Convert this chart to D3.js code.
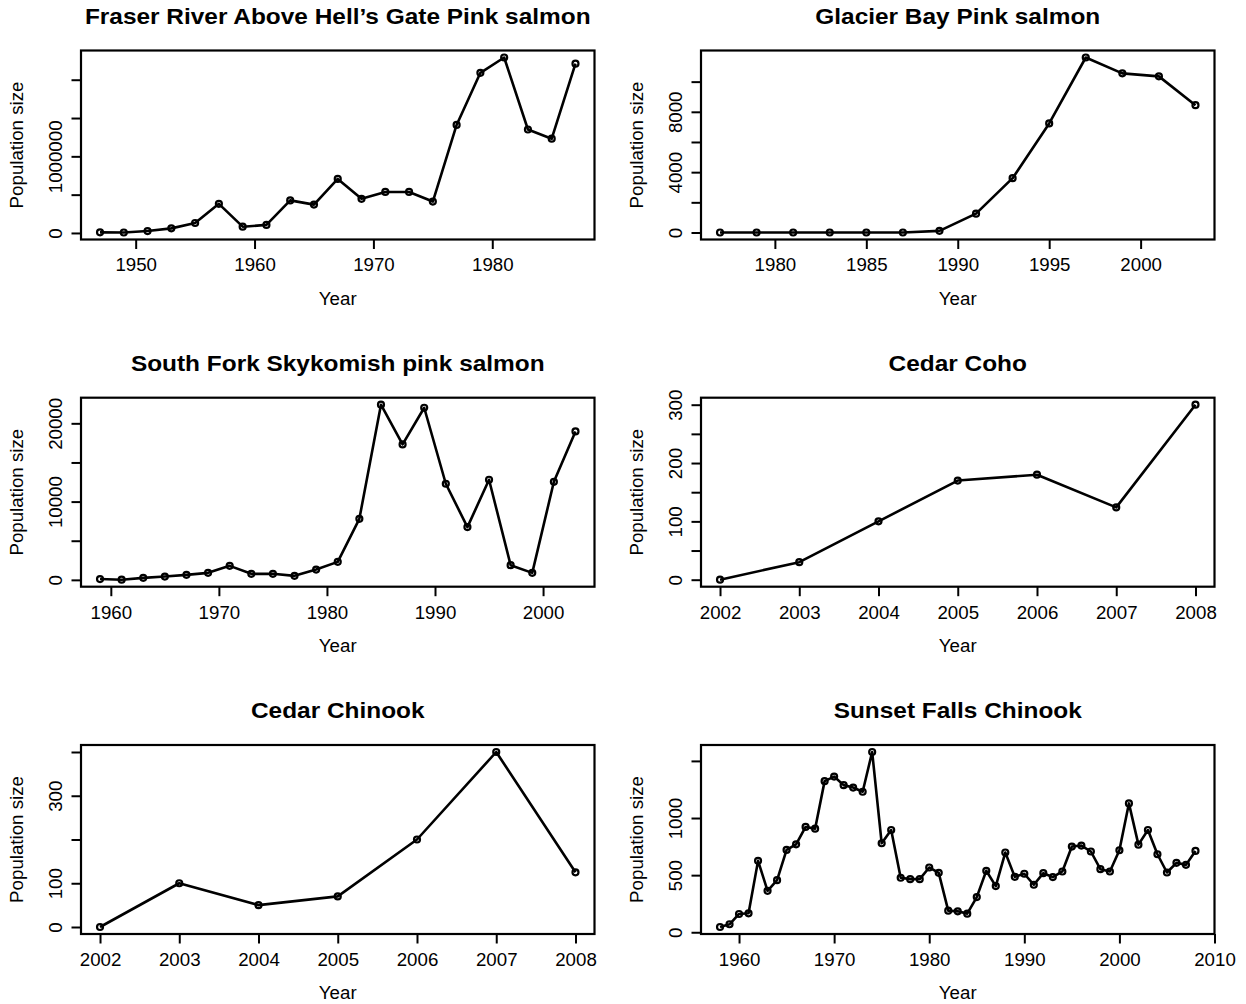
<!DOCTYPE html>
<html>
<head>
<meta charset="utf-8">
<script src="https://cdn.jsdelivr.net/npm/d3@7"></script>
<style>
  html, body { margin: 0; padding: 0; background: #fff; }
  svg { display: block; }
  text { font-family: "Liberation Sans", Arial, Helvetica, sans-serif; fill: #000; }
</style>
</head>
<body>
<svg id="chart" width="1246" height="1004"></svg>
<script>
// ---- Spawner counts per population ----
const fraserYears  = [1947,1949,1951,1953,1955,1957,1959,1961,1963,1965,1967,1969,1971,1973,1975,1977,1979,1981,1983,1985,1987];
const fraserCounts = [8000,6000,25000,60000,130000,380000,82000,105000,425000,370000,705000,445000,535000,535000,410000,1410000,2090000,2290000,1350000,1230000,2210000];

const glacierYears  = [1977,1979,1981,1983,1985,1987,1989,1991,1993,1995,1997,1999,2001,2003];
const glacierCounts = [0,0,0,0,0,0,110,1250,3600,7230,11600,10550,10350,8440];

const skykomishYears  = [1959,1961,1963,1965,1967,1969,1971,1973,1975,1977,1979,1981,1983,1985,1987,1989,1991,1993,1995,1997,1999,2001,2003];
const skykomishCounts = [100,20,255,425,640,895,1790,770,770,510,1320,2300,7800,22380,17300,21990,12280,6740,12790,1875,895,12530,18970];

const cohoYears  = [2002,2003,2004,2005,2006,2007,2008];
const cohoCounts = [0,30,100,170,180,124,300];

const cedarChinookYears  = [2002,2003,2004,2005,2006,2007,2008];
const cedarChinookCounts = [0,100,50,70,200,400,125];

const sunsetYears  = [1958,1959,1960,1961,1962,1963,1964,1965,1966,1967,1968,1969,1970,1971,1972,1973,1974,1975,1976,1977,1978,1979,1980,1981,1982,1983,1984,1985,1986,1987,1988,1989,1990,1991,1992,1993,1994,1995,1996,1997,1998,1999,2000,2001,2002,2003,2004,2005,2006,2007,2008];
const sunsetCounts = [46,70,160,166,625,363,456,721,770,922,907,1323,1363,1288,1267,1230,1578,779,895,477,465,465,567,520,189,183,163,308,538,404,698,485,512,416,517,483,532,750,759,707,552,532,718,1128,767,895,683,523,608,590,712];

// ---- Panel titles ----
const titles = [
  "Fraser River Above Hell\u2019s Gate Pink salmon",
  "Glacier Bay Pink salmon",
  "South Fork Skykomish pink salmon",
  "Cedar Coho",
  "Cedar Chinook",
  "Sunset Falls Chinook"
];

// ---- Tick positions and the subset of ticks that carry labels ----
const fraserXTicks = [1950,1960,1970,1980];
const fraserYTicks = [0,500000,1000000,1500000,2000000];
const fraserYLabels = [0,1000000];

const glacierXTicks = [1980,1985,1990,1995,2000];
const glacierYTicks = [0,2000,4000,6000,8000,10000];
const glacierYLabels = [0,4000,8000];

const skykomishXTicks = [1960,1970,1980,1990,2000];
const skykomishYTicks = [0,5000,10000,15000,20000];
const skykomishYLabels = [0,10000,20000];

const cohoXTicks = [2002,2003,2004,2005,2006,2007,2008];
const cohoYTicks = [0,50,100,150,200,250,300];
const cohoYLabels = [0,100,200,300];

const cedarChinookXTicks = [2002,2003,2004,2005,2006,2007,2008];
const cedarChinookYTicks = [0,100,200,300,400];
const cedarChinookYLabels = [0,100,300];

const sunsetXTicks = [1960,1970,1980,1990,2000,2010];
const sunsetYTicks = [0,500,1000,1500];
const sunsetYLabels = [0,500,1000];

const xTitle = "Year";
const yTitle = "Population size";

// ---- Layout of the 3 x 2 grid ----
const colLeft = [81, 701];
const rowTop  = [50.5, 397.7, 745];
const plotW = 513.5, plotH = 189;
const axisFont = 18.7, titleFont = 22, titleStretch = 1.11;

const panels = [
  { title: titles[0], years: fraserYears,       counts: fraserCounts,       xTicks: fraserXTicks,       yTicks: fraserYTicks,       yLabels: fraserYLabels,       col: 0, row: 0 },
  { title: titles[1], years: glacierYears,      counts: glacierCounts,      xTicks: glacierXTicks,      yTicks: glacierYTicks,      yLabels: glacierYLabels,      col: 1, row: 0 },
  { title: titles[2], years: skykomishYears,    counts: skykomishCounts,    xTicks: skykomishXTicks,    yTicks: skykomishYTicks,    yLabels: skykomishYLabels,    col: 0, row: 1 },
  { title: titles[3], years: cohoYears,         counts: cohoCounts,         xTicks: cohoXTicks,         yTicks: cohoYTicks,         yLabels: cohoYLabels,         col: 1, row: 1 },
  { title: titles[4], years: cedarChinookYears, counts: cedarChinookCounts, xTicks: cedarChinookXTicks, yTicks: cedarChinookYTicks, yLabels: cedarChinookYLabels, col: 0, row: 2 },
  { title: titles[5], years: sunsetYears,       counts: sunsetCounts,       xTicks: sunsetXTicks,       yTicks: sunsetYTicks,       yLabels: sunsetYLabels,       col: 1, row: 2 }
];

// Extend a data range by 4% on each side, like R's default axis style
function padded(values) {
  const [lo, hi] = d3.extent(values);
  const pad = (hi - lo) * 0.04;
  return [lo - pad, hi + pad];
}

const svg = d3.select("#chart");
svg.append("rect").attr("width", 1246).attr("height", 1004).attr("fill", "#fff");

panels.forEach(p => {
  const data = p.years.map((yr, i) => ({ year: yr, count: p.counts[i] }));
  const x = d3.scaleLinear().domain(padded(p.years)).range([0, plotW]);
  const y = d3.scaleLinear().domain(padded(p.counts)).range([plotH, 0]);

  const g = svg.append("g")
    .attr("transform", `translate(${colLeft[p.col]},${rowTop[p.row]})`);

  // x axis
  const xAxis = g.append("g")
    .attr("transform", `translate(0,${plotH})`)
    .call(d3.axisBottom(x).tickValues(p.xTicks).tickFormat(d => String(d))
      .tickSize(9.5).tickSizeOuter(0).tickPadding(9.2));
  xAxis.select(".domain").remove();
  xAxis.selectAll(".tick line").attr("stroke", "#000").attr("stroke-width", 2);
  xAxis.selectAll(".tick text")
    .attr("font-size", axisFont)
    .attr("font-family", "Liberation Sans, Arial, sans-serif")
    .attr("fill", "#000");

  // y axis with labels written along the axis
  const yAxis = g.append("g")
    .call(d3.axisLeft(y).tickValues(p.yTicks)
      .tickFormat(d => p.yLabels.includes(d) ? String(d) : "")
      .tickSize(9.5).tickSizeOuter(0));
  yAxis.select(".domain").remove();
  yAxis.selectAll(".tick line").attr("stroke", "#000").attr("stroke-width", 2);
  yAxis.selectAll(".tick text")
    .attr("x", null).attr("dy", null)
    .attr("transform", "translate(-19.5,0) rotate(-90)")
    .attr("text-anchor", "middle")
    .attr("font-size", axisFont)
    .attr("font-family", "Liberation Sans, Arial, sans-serif")
    .attr("fill", "#000");

  // series line and open circle markers
  g.append("path")
    .datum(data)
    .attr("fill", "none")
    .attr("stroke", "#000")
    .attr("stroke-width", 2.6)
    .attr("stroke-linejoin", "round")
    .attr("d", d3.line().x(d => x(d.year)).y(d => y(d.count)));

  g.selectAll("circle.pt")
    .data(data)
    .join("circle")
    .attr("class", "pt")
    .attr("cx", d => x(d.year))
    .attr("cy", d => y(d.count))
    .attr("r", 3)
    .attr("fill", "none")
    .attr("stroke", "#000")
    .attr("stroke-width", 2.2);

  // plot frame
  g.append("rect")
    .attr("width", plotW).attr("height", plotH)
    .attr("fill", "none").attr("stroke", "#000").attr("stroke-width", 2.2);

  // titles
  g.append("text")
    .attr("transform", `translate(${plotW / 2},-27) scale(${titleStretch},1)`)
    .attr("text-anchor", "middle")
    .attr("font-size", titleFont)
    .attr("font-weight", "bold")
    .text(p.title);

  g.append("text")
    .attr("x", plotW / 2).attr("y", plotH + 65)
    .attr("text-anchor", "middle")
    .attr("font-size", axisFont)
    .text(xTitle);

  g.append("text")
    .attr("transform", `translate(-58,${plotH / 2}) rotate(-90)`)
    .attr("text-anchor", "middle")
    .attr("font-size", axisFont)
    .text(yTitle);
});
</script>
</body>
</html>
